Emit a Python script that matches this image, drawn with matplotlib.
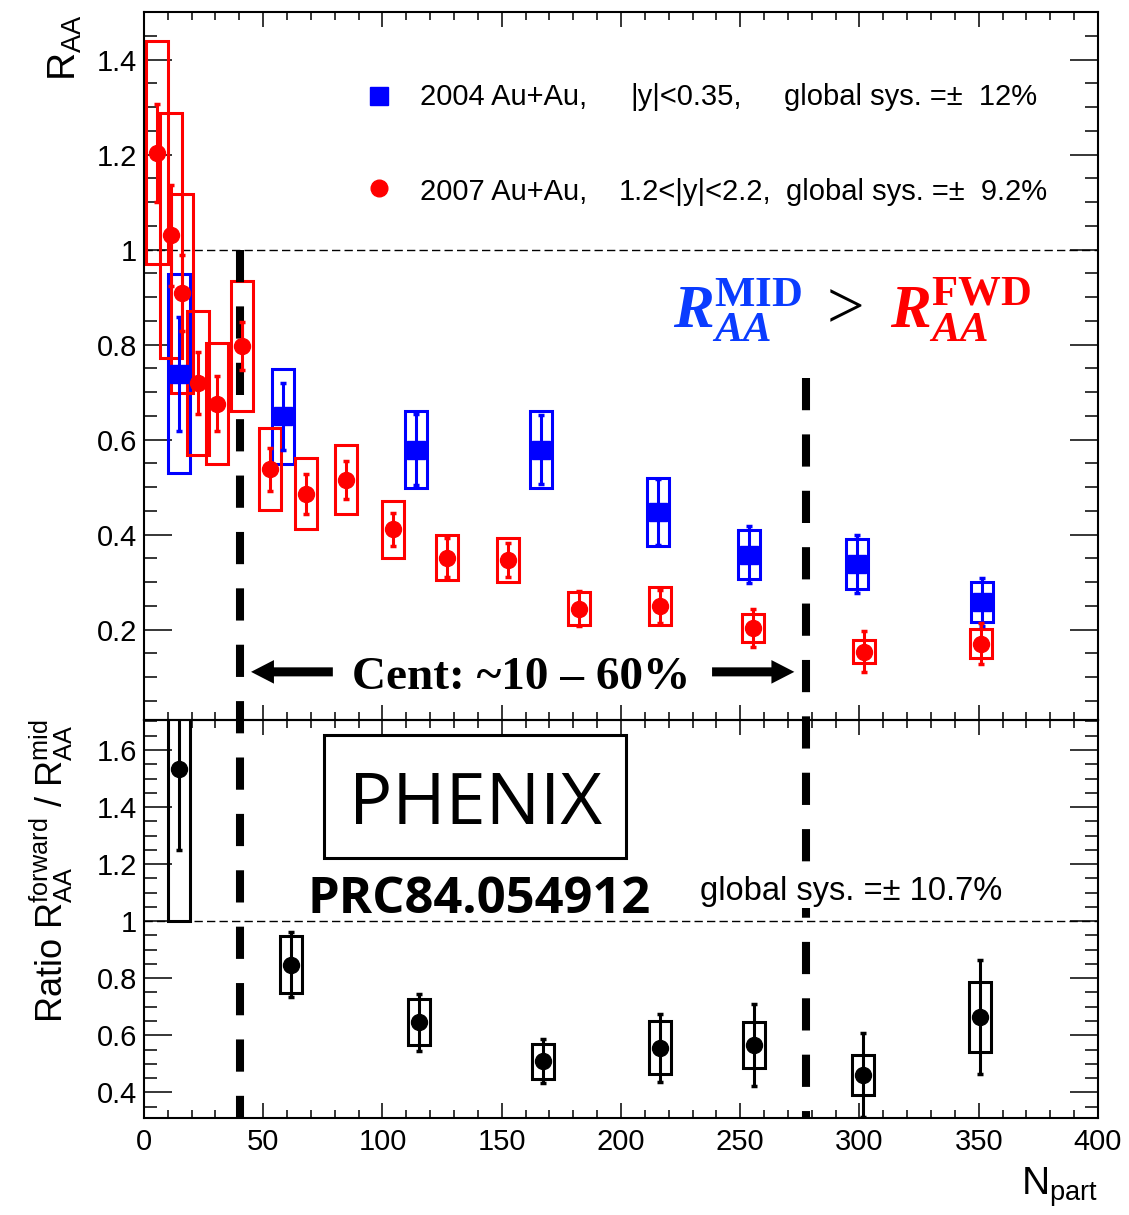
import matplotlib
matplotlib.use('Agg')
import matplotlib.pyplot as plt
from matplotlib.patches import Rectangle
from matplotlib.lines import Line2D
from matplotlib.ticker import MultipleLocator, FuncFormatter
from matplotlib.transforms import blended_transform_factory

# 2007 Au+Au, forward rapidity 1.2<|y|<2.2
npart_fwd = [5.5, 11.3, 16.1, 22.8, 30.7, 41.0, 52.8, 67.9, 84.7, 104.4, 126.9, 152.8, 182.4, 216.4, 255.5, 301.8, 350.8]
raa_fwd = [1.204, 1.030, 0.908, 0.719, 0.676, 0.797, 0.538, 0.486, 0.516, 0.411, 0.352, 0.347, 0.244, 0.249, 0.204, 0.154, 0.171]
stat_fwd = [0.103, 0.107, 0.080, 0.065, 0.058, 0.050, 0.045, 0.042, 0.040, 0.035, 0.040, 0.036, 0.037, 0.035, 0.040, 0.043, 0.043]
sys_fwd = [0.235, 0.258, 0.209, 0.151, 0.127, 0.137, 0.086, 0.075, 0.072, 0.059, 0.047, 0.046, 0.035, 0.040, 0.030, 0.024, 0.031]

# 2004 Au+Au, mid rapidity |y|<0.35
npart_mid = [14.7, 58.4, 114.0, 166.6, 215.4, 253.8, 299.1, 351.2]
raa_mid = [0.739, 0.649, 0.579, 0.579, 0.448, 0.358, 0.338, 0.258]
stat_mid = [0.120, 0.070, 0.075, 0.072, 0.070, 0.060, 0.061, 0.051]
sys_mid = [0.210, 0.100, 0.081, 0.081, 0.071, 0.051, 0.052, 0.042]

# ratio forward / mid
npart_ratio = [14.7, 61.8, 115.4, 167.3, 216.3, 255.7, 301.6, 350.7]
ratio = [1.533, 0.848, 0.646, 0.509, 0.557, 0.565, 0.462, 0.664]
stat_ratio = [0.284, 0.115, 0.100, 0.077, 0.119, 0.144, 0.147, 0.200]
sys_ratio = [0.533, 0.099, 0.080, 0.061, 0.094, 0.080, 0.070, 0.124]

# Npart of the ~10% and ~60% centrality edges, and where each dashed line starts (R_AA)
cent_edges = [40.3, 277.6]
cent_line_top = [1.0, 0.73]
box_w = 9.2

plt.rcParams['font.family'] = ['Liberation Sans', 'DejaVu Sans']
plt.rcParams['mathtext.fontset'] = 'custom'
plt.rcParams['mathtext.rm'] = 'Liberation Serif'
plt.rcParams['mathtext.it'] = 'Liberation Serif:italic'
plt.rcParams['mathtext.bf'] = 'Liberation Serif:bold'
plt.rcParams['mathtext.bfit'] = 'Liberation Serif:italic:bold'
plt.rcParams['mathtext.sf'] = 'Liberation Sans'

fig = plt.figure(figsize=(11.29, 12.15), dpi=100)
ax1 = fig.add_axes([0.1275, 0.4074, 0.845, 0.5827])
ax2 = fig.add_axes([0.1275, 0.0798, 0.845, 0.3276])
ax2.patch.set_visible(False)


def sys_boxes(ax, x, y, err, color):
    for xi, yi, ei in zip(x, y, err):
        ax.add_patch(Rectangle((xi - box_w / 2, yi - ei), box_w, 2 * ei,
                               fill=False, ec=color, lw=2.2, zorder=2))


ebar = dict(elinewidth=2.2, capsize=2.5, capthick=2.5, zorder=5, ls='none')

sys_boxes(ax1, npart_mid, raa_mid, sys_mid, 'blue')
sys_boxes(ax1, npart_fwd, raa_fwd, sys_fwd, 'red')
ax1.errorbar(npart_mid, raa_mid, yerr=stat_mid, marker='s', ms=12.5, color='blue', **ebar)
ax1.errorbar(npart_fwd, raa_fwd, yerr=stat_fwd, marker='o', ms=11.5, color='red', **ebar)

sys_boxes(ax2, npart_ratio, ratio, sys_ratio, 'black')
ax2.errorbar(npart_ratio, ratio, yerr=stat_ratio, marker='o', ms=11.5, color='black', **ebar)

ax1.set_ylim(0.01, 1.5)
ax2.set_ylim(0.31, 1.705)
for ax in (ax1, ax2):
    ax.set_xlim(0, 400)
    ax.xaxis.set_major_locator(MultipleLocator(50))
    ax.xaxis.set_minor_locator(MultipleLocator(10))
    ax.yaxis.set_major_locator(MultipleLocator(0.2))
    ax.yaxis.set_minor_locator(MultipleLocator(0.05))
    ax.yaxis.set_major_formatter(FuncFormatter(lambda v, p: '%g' % round(v, 2)))
    ax.tick_params(which='both', direction='in', top=True, right=True, width=1.1, labelsize=21)
    ax.tick_params(axis='y', which='major', length=20, pad=5)
    ax.tick_params(axis='y', which='minor', length=9.5)
    ax.tick_params(axis='x', which='major', length=10.5, pad=7)
    ax.tick_params(axis='x', which='minor', length=5.5)
    for s in ax.spines.values():
        s.set_linewidth(1.5)
    ax.axhline(1, color='black', lw=1, ls=(0, (6, 3)), zorder=1)
ax1.tick_params(axis='x', labelbottom=False)

# thick dashed centrality lines, running down through the ratio panel
trans = blended_transform_factory(ax1.transData, fig.transFigure)
to_fig = fig.transFigure.inverted()
for xc, yc in zip(cent_edges, cent_line_top):
    y_top = to_fig.transform(ax1.transData.transform((0, yc)))[1]
    ax1.add_line(Line2D([xc, xc], [y_top, 0.0798], transform=trans, color='black',
                        lw=5.8, ls=(0, (4, 3)), clip_on=False, zorder=3))

# legend
tr1 = ax1.transAxes
ax1.plot([0.246], [0.881], 's', color='blue', ms=12.5, transform=tr1)
ax1.plot([0.246], [0.751], 'o', color='red', ms=12, transform=tr1)
ax1.text(0.289, 0.8686, '2004 Au+Au,', fontsize=21, va='baseline', transform=tr1)
ax1.text(0.5094, 0.8686, '|y|<0.35,', fontsize=21, va='baseline', transform=tr1)
ax1.text(0.6709, 0.8686, 'global sys. =\u00b1  12%', fontsize=21, va='baseline', transform=tr1)
ax1.text(0.289, 0.7345, '2007 Au+Au,', fontsize=21, va='baseline', transform=tr1)
ax1.text(0.4979, 0.7345, '1.2<|y|<2.2,', fontsize=21, va='baseline', transform=tr1)
ax1.text(0.673, 0.7345, 'global sys. =\u00b1  9.2%', fontsize=21, va='baseline', transform=tr1)

ax1.text(0.5545, 0.5537, r'$\mathbfit{R}_{\mathbfit{AA}}^{\mathbf{MID}}$', color='#0a3cff',
         fontsize=44, va='baseline', transform=tr1)
ax1.text(0.716, 0.5537, '>', family='Liberation Serif', fontsize=48, va='baseline', transform=tr1)
ax1.text(0.782, 0.5537, r'$\mathbfit{R}_{\mathbfit{AA}}^{\mathbf{FWD}}$', color='red',
         fontsize=44, va='baseline', transform=tr1)

ax1.text(0.395, 0.0438, 'Cent: ~10 \u2013 60%', family='Liberation Serif', fontweight='bold',
         fontsize=34, ha='center', va='baseline', transform=tr1)
arrow = dict(width=6.5, headwidth=17, headlength=16.5, facecolor='black', edgecolor='black',
             lw=0, shrink=0)
ax1.annotate('', xy=(44.9, 0.068), xycoords=('data', 'axes fraction'),
             xytext=(79.2, 0.068), textcoords=('data', 'axes fraction'), arrowprops=arrow)
ax1.annotate('', xy=(272.7, 0.068), xycoords=('data', 'axes fraction'),
             xytext=(238.2, 0.068), textcoords=('data', 'axes fraction'), arrowprops=arrow)

# ratio panel labels
tr2 = ax2.transAxes
ax2.add_patch(Rectangle((0.1887, 0.6533), 0.3171, 0.309, transform=tr2, fill=False,
                        lw=2.2, ec='black', zorder=6))
ax2.text(0.3475, 0.7387, 'PHENIX', family='Open Sans', fontsize=52, ha='center',
         va='baseline', transform=tr2)
ax2.text(0.1719, 0.515, 'PRC84.054912', family='Open Sans', fontweight='bold', fontsize=36.5,
         va='baseline', transform=tr2)
ax2.text(0.583, 0.548, 'global sys. =\u00b1 10.7%', fontsize=23.5, va='baseline', transform=tr2,
         zorder=6, bbox=dict(fc='white', ec='none', pad=1))

fig.text(0.041, 0.988, r'$\mathsf{R_{AA}}$', rotation=90, fontsize=28, ha='left', va='top')
fig.text(0.046, 0.283, r'Ratio $\mathsf{R^{forward}_{AA}}$ / $\mathsf{R^{mid}_{AA}}$',
         rotation=90, fontsize=26, ha='center', va='center')
fig.text(0.9726, 0.041, r'$\mathsf{N_{part}}$', fontsize=28, ha='right', va='top')

fig.savefig('out.png', dpi=100)
